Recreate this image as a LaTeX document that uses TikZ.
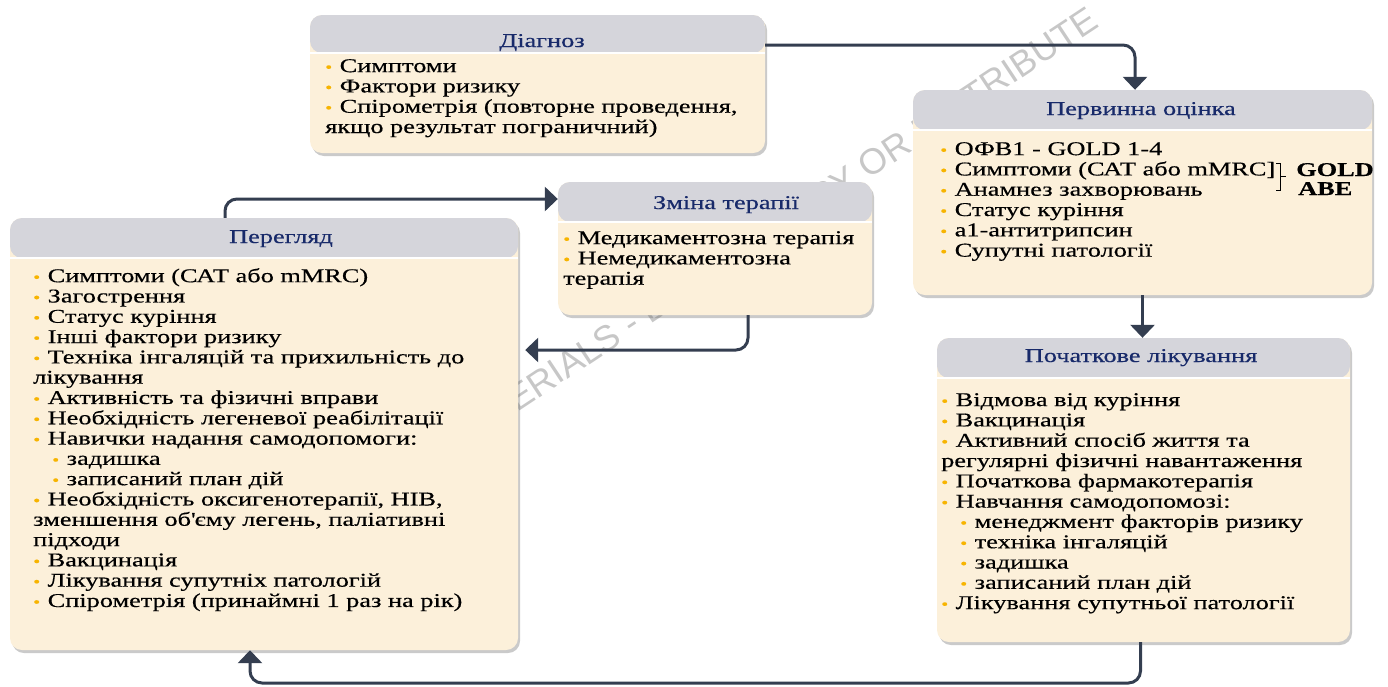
\documentclass[tikz,border=0pt]{standalone}
\usepackage{fontspec}
\setmainfont{Liberation Serif}[FakeStretch=1.35, FakeBold=0.4]
\newfontfamily\wmfont{Liberation Sans}
\usepackage{tikz}
\usetikzlibrary{arrows.meta,shadows}

\definecolor{headgray}{RGB}{213,213,219}
\definecolor{bodycream}{RGB}{252,240,218}
\definecolor{titlenavy}{RGB}{24,42,106}
\definecolor{dotgold}{RGB}{247,180,0}
\definecolor{flowgray}{RGB}{52,62,80}

\newcommand\bul{\makebox[14.5pt][l]{\textcolor{dotgold}{\fontsize{15}{15}\selectfont\textbullet}}}
\newcommand\subbul{\hspace*{19pt}\bul}

\begin{document}
\begin{tikzpicture}[x=1pt, y=-1pt,
  every node/.style = {inner sep=0pt, font=\fontsize{19.5}{20.3}\selectfont},
  panel/.style = {rounded corners=12pt, fill=bodycream,
    drop shadow={shadow xshift=2pt, shadow yshift=-3pt, opacity=.35, fill=black!60},
    path picture={\fill[headgray] (path picture bounding box.north west)
      rectangle ([yshift=-#1]path picture bounding box.north east);
      \draw[white, line width=2.5pt] ([yshift=-#1]path picture bounding box.north west)
      -- ([yshift=-#1]path picture bounding box.north east);}},
  title/.style = {anchor=base, text=titlenavy},
  items/.style = {anchor=north west, align=left},
  goldabe/.style = {anchor=base west, font=\fontsize{19.5}{20.3}\selectfont\bfseries},
  watermark/.style = {anchor=base east, rotate=33.5, text=black!22,
    font=\wmfont\fontsize{36}{36}\selectfont},
  flow/.style = {draw=flowgray, line width=3pt, rounded corners=12pt,
    -{Triangle[width=24pt,length=13pt]}}]
  \useasboundingbox (0,0) rectangle (1388,686);
  \node[watermark] (wm) at (1101,26) {MATERIALS - DO NOT COPY OR DISTRIBUTE};

  \node[panel=38pt, minimum width=455pt, minimum height=138pt] (diag) at (537.5,84) {};
  \node[title] (diag-t) at (542,47) {Діагноз};
  \node[items] (diag-b) at (325,59) {\bul Симптоми\\ \bul Фактори ризику\\
    \bul Спірометрія (повторне проведення,\\ якщо результат пограничний)};

  \node[panel=40pt, minimum width=459pt, minimum height=205pt] (prim) at (1142.5,192.5) {};
  \node[title] (prim-t) at (1141,115) {Первинна оцінка};
  \node[items] (prim-b) at (940,142) {\bul ОФВ1 - GOLD 1-4\\ \bul Симптоми (САТ або mMRC]\\
    \bul Анамнез захворювань\\ \bul Статус куріння\\ \bul а1-антитрипсин\\
    \bul Супутні патології};
  \node[goldabe] (gold) at (1296,176) {GOLD};
  \node[goldabe] (abe) at (1298,195) {ABE};
  \draw[line width=1pt] (1276,163) -| (1280,190) -- (1276,190) (1280,176) -- (1286,176);

  \node[panel=40pt, minimum width=314pt, minimum height=133pt] (chg) at (715,248.5) {};
  \node[title] (chg-t) at (726,209) {Зміна терапії};
  \node[items] (chg-b) at (563,231) {\bul Медикаментозна терапія\\
    \bul Немедикаментозна\\ терапія};

  \node[panel=40pt, minimum width=508pt, minimum height=432pt] (rev) at (264,434) {};
  \node[title] (rev-t) at (281,243) {Перегляд};
  \node[items] (rev-b) at (33,268) {\bul Симптоми (САТ або mMRC)\\ \bul Загострення\\
    \bul Статус куріння\\ \bul Інші фактори ризику\\
    \bul Техніка інгаляцій та прихильність до\\ лікування\\
    \bul Активність та фізичні вправи\\ \bul Необхідність легеневої реабілітації\\
    \bul Навички надання самодопомоги:\\ \subbul задишка\\ \subbul записаний план дій\\
    \bul Необхідність оксигенотерапії, НІВ,\\ зменшення об\textquotesingle єму легень, паліативні\\
    підходи\\ \bul Вакцинація\\ \bul Лікування супутніх патологій\\
    \bul Спірометрія (принаймні 1 раз на рік)};

  \node[panel=40pt, minimum width=413pt, minimum height=304pt] (init) at (1143.5,490) {};
  \node[title] (init-t) at (1141,362) {Початкове лікування};
  \node[items] (init-b) at (941,393) {\bul Відмова від куріння\\ \bul Вакцинація\\
    \bul Активний спосіб життя та\\ регулярні фізичні навантаження\\
    \bul Початкова фармакотерапія\\ \bul Навчання самодопомозі:\\
    \subbul менеджмент факторів ризику\\ \subbul техніка інгаляцій\\
    \subbul задишка\\ \subbul записаний план дій\\ \bul Лікування супутньої патології};

  \coordinate (loop) at (250,683);
  \draw[flow] ([yshift=39pt]diag.east) -| ([xshift=-7.5pt]prim.north);
  \draw[flow] (prim.south) -- (prim.south |- init.north);
  \draw[flow] ([xshift=-3pt]init.south) |- (loop) -- (loop |- rev.south);
  \draw[flow] ([xshift=-39pt]rev.north) |- ([yshift=49.5pt]chg.west);
  \draw[flow] ([xshift=33pt]chg.south) |- ([xshift=7pt,yshift=84pt]rev.east);
\end{tikzpicture}
\end{document}
